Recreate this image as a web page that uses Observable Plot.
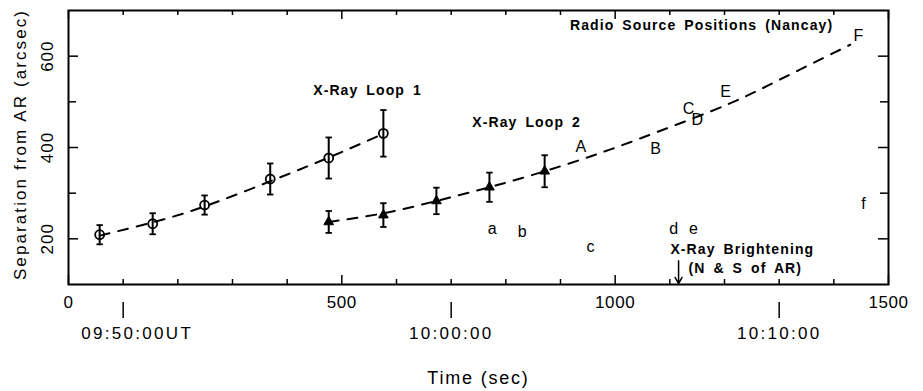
<!DOCTYPE html>
<html><head><meta charset="utf-8">
<script src="https://cdn.jsdelivr.net/npm/d3@7"></script>
<script src="https://cdn.jsdelivr.net/npm/@observablehq/plot@0.6"></script>
<style>body{margin:0;background:#fff}</style>
</head><body><div id="chart"></div>
<script>
// X-Ray Loop 1 (open circles)
const loop1Time = [57, 154, 249, 369, 476, 576];
const loop1Sep  = [209, 233, 274, 331, 377, 431];
const loop1Err  = [21, 23, 21, 34, 45, 51];
// X-Ray Loop 2 (triangles)
const loop2Time = [476, 576, 673, 770, 871];
const loop2Sep  = [237, 252, 283, 313, 348];
const loop2Err  = [24, 26, 29, 32, 35];
// dashed fit curves
const fit1Time = [57, 154, 249, 369, 476, 576];
const fit1Sep  = [207, 236, 271, 326, 378, 430];
const fit2Time = [476, 576, 673, 770, 871, 973, 1075, 1205, 1300, 1430];
const fit2Sep  = [237, 256, 283, 313, 348, 388, 433, 494, 548, 625];
// radio source positions (Nancay)
const radioLabels = ["A","B","C","D","E","F","a","b","c","d","e","f"];
const radioTime   = [937, 1074, 1134, 1150, 1202, 1445, 775, 830, 955, 1107, 1143, 1454];
const radioSep    = [401, 396, 484, 460, 521, 645, 222, 215, 183, 222, 222, 276];
// ticks
const xTickLabels = [0, 500, 1000, 1500];
const xMinorTicks = [100,200,300,400,600,700,800,900,1100,1200,1300,1400];
const yTickLabels = [200, 400, 600];
const yMinorTicks = [300, 500];
const utTime   = [100, 700, 1300];
const utLabels = ["09:50:00UT", "10:00:00", "10:10:00"];
// annotations
const noteText   = ["X-Ray Loop 1", "X-Ray Loop 2", "Radio Source Positions (Nancay)", "X-Ray Brightening", "(N & S of AR)"];
const noteTime   = [547, 838, 1158, 1101, 1134];
const noteSep    = [525, 455, 667, 176, 135];
const noteAnchor = ["middle", "middle", "middle", "start", "start"];
const brightTime = [1116];
const brightFrom = 152, brightTo = 100;

const loop1 = loop1Time.map((t, i) => ({t, s: loop1Sep[i], e: loop1Err[i]}));
const loop2 = loop2Time.map((t, i) => ({t, s: loop2Sep[i], e: loop2Err[i]}));
const fit1 = fit1Time.map((t, i) => ({t, s: fit1Sep[i]}));
const fit2 = fit2Time.map((t, i) => ({t, s: fit2Sep[i]}));
const radio = radioLabels.map((l, i) => ({l, t: radioTime[i], s: radioSep[i]}));
const notes = noteText.map((n, i) => ({n, t: noteTime[i], s: noteSep[i], a: noteAnchor[i]}));
const ut = utTime.map((t, i) => ({t, l: utLabels[i], i}));

const FH = 274, FW = 820;
const cap = {draw(ctx, size) { const w = Math.sqrt(size / Math.PI); ctx.moveTo(-w, 0); ctx.lineTo(w, 0); }};
const font = "'Liberation Sans', Arial, sans-serif";

const errMarks = (data) => [
  Plot.ruleX(data, {x: "t", y1: d => d.s - d.e, y2: d => d.s + d.e, strokeWidth: 2}),
  Plot.dot(data, {x: "t", y: d => d.s + d.e, symbol: cap, r: 3.2, stroke: "black", strokeWidth: 1.8}),
  Plot.dot(data, {x: "t", y: d => d.s - d.e, symbol: cap, r: 3.2, stroke: "black", strokeWidth: 1.8})
];

const chart = Plot.plot({
  width: 923, height: 391,
  marginLeft: 68, marginRight: 35, marginTop: 10, marginBottom: 107,
  x: {domain: [0, 1500], axis: null},
  y: {domain: [100, 700], axis: null},
  style: {fontFamily: font, background: "white", color: "black"},
  marks: [
    // inward ticks
    Plot.ruleX(xMinorTicks, {x: d => d, insetTop: FH - 5, strokeWidth: 1.5}),
    Plot.ruleX(xTickLabels, {x: d => d, insetTop: FH - 9, strokeWidth: 1.5}),
    Plot.ruleX(xMinorTicks, {x: d => d, insetBottom: FH - 5, strokeWidth: 1.5}),
    Plot.ruleX(xTickLabels, {x: d => d, insetBottom: FH - 9, strokeWidth: 1.5}),
    Plot.ruleY(yTickLabels, {y: d => d, insetRight: FW - 10, strokeWidth: 1.5}),
    Plot.ruleY(yMinorTicks, {y: d => d, insetRight: FW - 8, strokeWidth: 1.5}),
    Plot.ruleY(yTickLabels, {y: d => d, insetLeft: FW - 10, strokeWidth: 1.5}),
    Plot.ruleY(yMinorTicks, {y: d => d, insetLeft: FW - 8, strokeWidth: 1.5}),
    Plot.frame({strokeWidth: 2}),
    // tick labels
    Plot.text(xTickLabels, {x: d => d, text: d => String(d), frameAnchor: "bottom", lineAnchor: "middle", dy: 18, fontSize: 17, ariaDescription: "xlab"}),
    Plot.text(yTickLabels, {y: d => d, text: d => String(d), frameAnchor: "left", textAnchor: "middle", lineAnchor: "middle", dx: -21, rotate: -90, fontSize: 17, ariaDescription: "ylab"}),
    // UT secondary ticks
    Plot.axisX(utTime, {anchor: "bottom", tickSize: 16, dy: 18, tickPadding: 0, tickFormat: () => "", label: null, strokeWidth: 1.5}),
    Plot.text(ut, {x: "t", text: "l", filter: d => d.i === 0, frameAnchor: "bottom", lineAnchor: "middle", dy: 49, dx: 14, fontSize: 17, ariaDescription: "utlab"}),
    Plot.text(ut, {x: "t", text: "l", filter: d => d.i > 0, frameAnchor: "bottom", lineAnchor: "middle", dy: 49, fontSize: 17, ariaDescription: "utlab"}),
    // axis titles
    Plot.text(["Time (sec)"], {frameAnchor: "bottom", lineAnchor: "middle", textAnchor: "middle", dy: 94, fontSize: 18, ariaDescription: "xtitle"}),
    Plot.text(["Separation from AR (arcsec)"], {frameAnchor: "left", textAnchor: "middle", lineAnchor: "middle", dx: -48, dy: -3, rotate: -90, fontSize: 17, ariaDescription: "ytitle"}),
    // fits
    Plot.line(fit1, {x: "t", y: "s", curve: "natural", strokeWidth: 2, strokeDasharray: "10,9"}),
    Plot.line(fit2, {x: "t", y: "s", curve: "natural", strokeWidth: 2, strokeDasharray: "10,9"}),
    // error bars and symbols
    ...errMarks(loop1),
    ...errMarks(loop2),
    Plot.dot(loop1, {x: "t", y: "s", r: 4.5, stroke: "black", strokeWidth: 1.8, fill: "none"}),
    Plot.dot(loop2, {x: "t", y: "s", symbol: "triangle", r: 3.6, fill: "black", stroke: "black", strokeWidth: 1}),
    // radio source letters
    Plot.text(radio, {x: "t", y: "s", text: "l", fontSize: 16, ariaDescription: "radio"}),
    // annotations
    Plot.text(notes, {x: "t", y: "s", text: "n", textAnchor: "start", filter: d => d.a === "start", fontSize: 14, fontWeight: "bold", ariaDescription: "note"}),
    Plot.text(notes, {x: "t", y: "s", text: "n", textAnchor: "middle", filter: d => d.a === "middle", fontSize: 14, fontWeight: "bold", ariaDescription: "note"}),
    Plot.arrow(brightTime, {x1: d => d, x2: d => d, y1: brightFrom, y2: brightTo, strokeWidth: 1.5, headLength: 7, insetEnd: 1})
  ]
});
document.getElementById("chart").appendChild(chart);
const sp = (label, v, w) => chart.querySelectorAll(`[aria-description="${label}"] text`).forEach(t => {
  t.setAttribute("letter-spacing", v);
  if (w) t.setAttribute("word-spacing", w);
});
sp("xlab", "0.6"); sp("ylab", "1"); sp("utlab", "2.3"); sp("xtitle", "1.8"); sp("ytitle", "2.1"); sp("note", "1.1", "3");
</script>
</body></html>
